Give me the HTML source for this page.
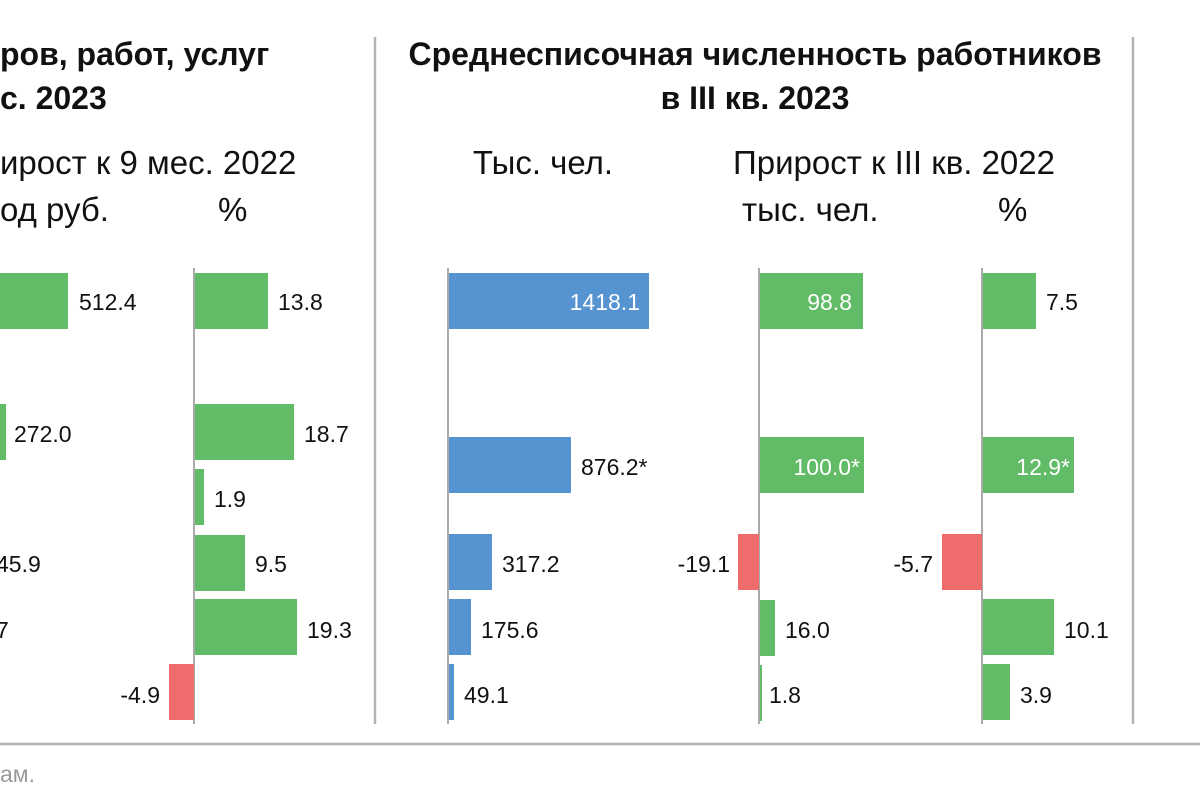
<!DOCTYPE html>
<html><head><meta charset="utf-8"><style>
html,body{margin:0;padding:0;background:#fff;width:1200px;height:800px;overflow:hidden}
svg{display:block}
text{font-family:"Liberation Sans",sans-serif;fill:#111}
.t{font-size:32px;font-weight:bold}
.s{font-size:33px}
.n{font-size:23px}
.w{fill:#fff}
</style></head><body>
<svg width="1200" height="800" viewBox="0 0 1200 800">
<g stroke="#b3b3b3" stroke-width="2.5">
<line x1="375" y1="37" x2="375" y2="724"/>
<line x1="1133" y1="37" x2="1133" y2="724"/>
<line x1="0" y1="744" x2="1200" y2="744"/>
</g>
<g stroke="#aaa" stroke-width="2">
<line x1="194" y1="268" x2="194" y2="724"/>
<line x1="448" y1="268" x2="448" y2="724"/>
<line x1="759" y1="268" x2="759" y2="724"/>
<line x1="982" y1="268" x2="982" y2="724"/>
</g>
<text class="t" x="0" y="65">ров, работ, услуг</text>
<text class="t" x="0" y="109">с. 2023</text>
<text class="t" x="755" y="65" text-anchor="middle">Среднесписочная численность работников</text>
<text class="t" x="755" y="109" text-anchor="middle">в III кв. 2023</text>
<text class="s" x="0" y="174">ирост к 9 мес. 2022</text>
<text class="s" x="0" y="221">од руб.</text>
<text class="s" x="218" y="221">%</text>
<text class="s" x="543" y="174" text-anchor="middle">Тыс. чел.</text>
<text class="s" x="733" y="174">Прирост к III кв. 2022</text>
<text class="s" x="742" y="221">тыс. чел.</text>
<text class="s" x="998" y="221">%</text>
<g fill="#62bb67">
<rect x="0" y="273" width="68" height="56"/>
<rect x="0" y="404" width="6" height="56"/>
<rect x="195" y="273" width="73" height="56"/>
<rect x="195" y="404" width="99" height="56"/>
<rect x="195" y="469" width="9" height="56"/>
<rect x="195" y="535" width="50" height="56"/>
<rect x="195" y="599" width="102" height="56"/>
<rect x="760" y="273" width="103" height="56"/>
<rect x="760" y="437" width="104" height="56"/>
<rect x="760" y="600" width="15" height="56"/>
<rect x="760" y="665" width="2" height="56"/>
<rect x="983" y="273" width="53" height="56"/>
<rect x="983" y="437" width="91" height="56"/>
<rect x="983" y="599" width="71" height="56"/>
<rect x="983" y="664" width="27" height="56"/>
</g>
<g fill="#f06b6b">
<rect x="169" y="664" width="25" height="56"/>
<rect x="738" y="534" width="21" height="56"/>
<rect x="942" y="534" width="40" height="56"/>
</g>
<g fill="#5593d1">
<rect x="449" y="273" width="200" height="56"/>
<rect x="449" y="437" width="122" height="56"/>
<rect x="449" y="534" width="43" height="56"/>
<rect x="449" y="599" width="22" height="56"/>
<rect x="449" y="664" width="5" height="56"/>
</g>
<g>
<text class="n" x="79" y="310">512.4</text>
<text class="n" x="14" y="442">272.0</text>
<text class="n" x="-4" y="572">45.9</text>
<text class="n" x="-4" y="638">7</text>
<text class="n" x="278" y="310">13.8</text>
<text class="n" x="304" y="442">18.7</text>
<text class="n" x="214" y="507">1.9</text>
<text class="n" x="255" y="572">9.5</text>
<text class="n" x="307" y="638">19.3</text>
<text class="n" x="160" y="703" text-anchor="end">-4.9</text>
<text class="n w" x="640" y="310" text-anchor="end">1418.1</text>
<text class="n" x="581" y="475">876.2*</text>
<text class="n" x="502" y="572">317.2</text>
<text class="n" x="481" y="638">175.6</text>
<text class="n" x="464" y="703">49.1</text>
<text class="n w" x="852" y="310" text-anchor="end">98.8</text>
<text class="n w" x="860" y="475" text-anchor="end">100.0*</text>
<text class="n" x="730" y="572" text-anchor="end">-19.1</text>
<text class="n" x="785" y="638">16.0</text>
<text class="n" x="769" y="703">1.8</text>
<text class="n" x="1046" y="310">7.5</text>
<text class="n w" x="1070" y="475" text-anchor="end">12.9*</text>
<text class="n" x="933" y="572" text-anchor="end">-5.7</text>
<text class="n" x="1064" y="638">10.1</text>
<text class="n" x="1020" y="703">3.9</text>
</g>
<text x="0" y="782" style="font-size:23px;fill:#9a9a9a">ам.</text>
</svg>
</body></html>
